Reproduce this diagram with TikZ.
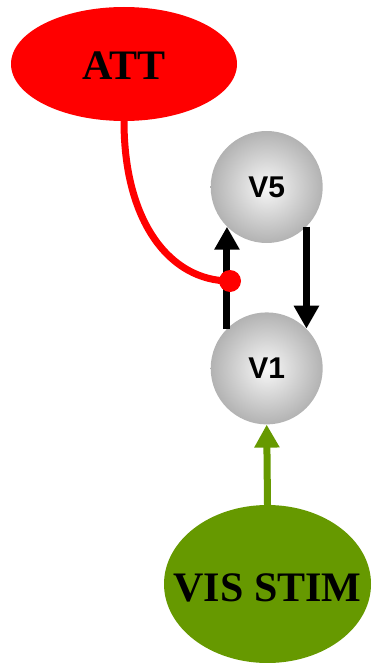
\documentclass[tikz,border=0pt]{standalone}
\usepackage{fontspec}
\setmainfont{Liberation Serif}
\newfontfamily\labelsans{Liberation Sans}
\usetikzlibrary{arrows.meta,shapes.geometric}
\definecolor{attred}{HTML}{FF0000}
\definecolor{visgreen}{HTML}{669900}
\pgfdeclareradialshading{spherebg}{\pgfpoint{0bp}{0bp}}{color(0bp)=(white!97!black); color(25bp)=(white!70!black); color(50bp)=(white!70!black)}
\tikzset{
  blob/.style={ellipse, inner sep=0pt, draw=none},
  area/.style={circle, inner sep=0pt, minimum size=112pt, shading=spherebg, draw=none},
  bigtext/.style={font=\fontsize{42}{50}\selectfont\bfseries, text=black, inner sep=0pt},
  areatext/.style={font=\labelsans\fontsize{30}{36}\selectfont\bfseries, text=black, inner sep=0pt},
  blackarrow/.style={line width=7pt, draw=black, -{Triangle[length=23pt,width=24pt]}},
  greenarrow/.style={line width=7pt, draw=visgreen, -{Triangle[length=23pt,width=24pt]}},
  modline/.style={line width=7pt, draw=attred}
}
\begin{document}
\begin{tikzpicture}[x=1pt,y=-1pt]
\useasboundingbox (0,0) rectangle (372,663);
\node[blob, fill=attred, minimum width=226pt, minimum height=114pt] (att) at (124,64) {};
\node[bigtext] (attlabel) at (124,66) {ATT};
\node[area] (v5) at (266.7,187) {};
\node[areatext] (v5label) at (v5.center) {V5};
\node[area] (v1) at (266.7,368.4) {};
\node[areatext] (v1label) at (v1.center) {V1};
\node[blob, fill=visgreen, minimum width=207pt, minimum height=158pt] (vis) at (267.5,584) {};
\node[bigtext] (vislabel) at (267.5,588) {VIS STIM};
\coordinate (dotc) at (230,281);
\draw[modline] (att.south) .. controls (124,222) and (170,281) .. (dotc);
\draw[blackarrow] (v1.135) -- (v5.225);
\draw[blackarrow] (v5.-45) -- (v1.45);
\draw[greenarrow] (vis.north) -- (v1.south);
\node[circle, fill=attred, inner sep=0pt, minimum size=22pt] (dot) at (dotc) {};
\end{tikzpicture}
\end{document}
